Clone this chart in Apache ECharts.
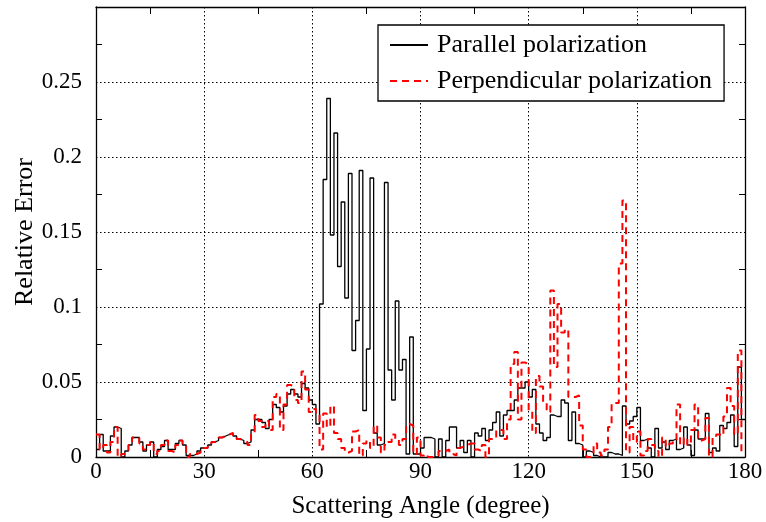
<!DOCTYPE html>
<html>
<head>
<meta charset="utf-8">
<script src="https://cdn.jsdelivr.net/npm/echarts@6/dist/echarts.min.js"></script>
<style>
  html, body { margin: 0; padding: 0; background: #fff; }
  #main { width: 766px; height: 522px; }
</style>
</head>
<body>
<div id="main"></div>
<script>
// Relative error per 1-degree scattering-angle bin (bin i covers [i, i+1) degrees)
const binWidth = 1;

const parallelError = [
  0.005, 0.015, 0.004, 0.004, 0.014, 0.020, 0.019, 0.000, 0.004, 0.008,
  0.013, 0.013, 0.010, 0.004, 0.008, 0.010, 0.000, 0.005, 0.007, 0.011,
  0.005, 0.005, 0.009, 0.011, 0.008, 0.001, 0.001, 0.002, 0.004, 0.006,
  0.006, 0.008, 0.010, 0.011, 0.013, 0.014, 0.015, 0.016, 0.014, 0.012,
  0.011, 0.009, 0.010, 0.018, 0.025, 0.025, 0.023, 0.019, 0.025, 0.035,
  0.033, 0.030, 0.034, 0.042, 0.045, 0.042, 0.040, 0.049, 0.046, 0.038,
  0.035, 0.022, 0.102, 0.185, 0.239, 0.148, 0.216, 0.127, 0.170, 0.106,
  0.189, 0.071, 0.091, 0.191, 0.031, 0.072, 0.186, 0.016, 0.008, 0.009,
  0.183, 0.058, 0.038, 0.104, 0.058, 0.065, 0.002, 0.080, 0.002, 0.002,
  0.006, 0.013, 0.013, 0.012, 0.000, 0.012, 0.000, 0.011, 0.020, 0.020,
  0.006, 0.011, 0.003, 0.011, 0.000, 0.016, 0.014, 0.019, 0.011, 0.018,
  0.023, 0.030, 0.014, 0.028, 0.031, 0.031, 0.038, 0.046, 0.046, 0.050,
  0.040, 0.045, 0.022, 0.016, 0.011, 0.013, 0.028, 0.027, 0.027, 0.038,
  0.036, 0.011, 0.030, 0.009, 0.008, 0.000, 0.004, 0.003, 0.001, 0.000,
  0.000, 0.000, 0.003, 0.002, 0.002, 0.001, 0.034, 0.022, 0.024, 0.027,
  0.033, 0.011, 0.012, 0.006, 0.000, 0.019, 0.006, 0.010, 0.005, 0.011,
  0.012, 0.005, 0.006, 0.020, 0.008, 0.001, 0.018, 0.012, 0.012, 0.029,
  0.003, 0.006, 0.004, 0.021, 0.019, 0.023, 0.028, 0.007, 0.060, 0.025
];

const perpendicularError = [
  0.015, 0.005, 0.008, 0.003, 0.010, 0.020, 0.000, 0.002, 0.003, 0.008,
  0.013, 0.013, 0.009, 0.005, 0.008, 0.010, 0.002, 0.004, 0.008, 0.011,
  0.004, 0.003, 0.008, 0.011, 0.008, 0.000, 0.002, 0.002, 0.003, 0.006,
  0.006, 0.008, 0.010, 0.011, 0.013, 0.014, 0.015, 0.016, 0.014, 0.012,
  0.011, 0.010, 0.008, 0.015, 0.028, 0.024, 0.020, 0.024, 0.018, 0.040,
  0.042, 0.018, 0.035, 0.048, 0.047, 0.038, 0.036, 0.057, 0.045, 0.030,
  0.032, 0.028, 0.005, 0.029, 0.020, 0.034, 0.016, 0.012, 0.006, 0.003,
  0.004, 0.017, 0.018, 0.001, 0.009, 0.011, 0.006, 0.021, 0.013, 0.003,
  0.008, 0.010, 0.015, 0.012, 0.008, 0.012, 0.022, 0.021, 0.002, 0.013,
  0.001, 0.002, 0.000, 0.000, 0.001, 0.004, 0.004, 0.005, 0.002, 0.001,
  0.006, 0.007, 0.008, 0.009, 0.009, 0.005, 0.004, 0.008, 0.000, 0.012,
  0.012, 0.018, 0.018, 0.012, 0.025, 0.062, 0.070, 0.025, 0.063, 0.062,
  0.031, 0.016, 0.054, 0.047, 0.036, 0.030, 0.111, 0.060, 0.102, 0.083,
  0.085, 0.040, 0.040, 0.041, 0.021, 0.005, 0.000, 0.001, 0.009, 0.003,
  0.001, 0.005, 0.020, 0.036, 0.036, 0.129, 0.171, 0.003, 0.020, 0.010,
  0.017, 0.001, 0.004, 0.012, 0.008, 0.004, 0.000, 0.013, 0.007, 0.009,
  0.011, 0.035, 0.008, 0.013, 0.008, 0.018, 0.035, 0.011, 0.012, 0.026,
  0.000, 0.013, 0.015, 0.014, 0.027, 0.046, 0.034, 0.015, 0.071, 0.003
];

const xTicks = { min: 0, max: 180, step: 30 };
const yTicks = { min: 0, max: 0.3, step: 0.05 };
const seriesNames = ['Parallel polarization', 'Perpendicular polarization'];

// Turn per-bin values into step points: each bin value spans [start, start + width]
function toSteps(values) {
  const pts = values.map((v, i) => [i * binWidth, v]);
  pts.push([values.length * binWidth, values[values.length - 1]]);
  return pts;
}

const FONT = 'Liberation Serif, Times New Roman, serif';
const axisLineStyle = { color: '#000', width: 1.3 };
const gridDots = { color: '#000', width: 1, type: [1.5, 2.5] };

function xAxisDef(pos, main) {
  return {
    type: 'value', position: pos,
    min: xTicks.min, max: xTicks.max, interval: xTicks.step,
    axisLine: { show: true, onZero: false, lineStyle: axisLineStyle },
    axisTick: { show: false, inside: true },
    minorTick: { show: true, splitNumber: 2, length: 7, lineStyle: { color: '#000', width: 1 } },
    splitLine: { show: main, lineStyle: gridDots },
    axisLabel: main ? { show: true, fontFamily: FONT, fontSize: 23, color: '#000', margin: 3 } : { show: false },
    name: main ? 'Scattering Angle (degree)' : '',
    nameLocation: 'middle', nameGap: 37, nameMoveOverlap: false,
    nameTextStyle: { fontFamily: FONT, fontSize: 25, color: '#000' }
  };
}

function yAxisDef(pos, main) {
  return {
    type: 'value', position: pos,
    min: yTicks.min, max: yTicks.max, interval: yTicks.step,
    axisLine: { show: true, onZero: false, lineStyle: axisLineStyle },
    axisTick: { show: false, inside: true },
    minorTick: { show: true, splitNumber: 2, length: 6, lineStyle: { color: '#000', width: 1 } },
    splitLine: { show: main, lineStyle: gridDots },
    axisLabel: main ? { show: true, showMaxLabel: false, fontFamily: FONT, fontSize: 23, color: '#000', margin: 14 } : { show: false },
    name: main ? 'Relative Error' : '',
    nameLocation: 'middle', nameGap: 58, nameMoveOverlap: false,
    nameTextStyle: { fontFamily: FONT, fontSize: 26, color: '#000' }
  };
}

const chart = echarts.init(document.getElementById('main'), null, { renderer: 'canvas' });
chart.setOption({
  animation: false,
  backgroundColor: '#fff',
  grid: { left: 96, right: 21, top: 7, bottom: 65, containLabel: false, outerBoundsMode: 'none' },
  legend: {
    orient: 'vertical', left: 378, top: 25,
    backgroundColor: '#fff', borderColor: '#000', borderWidth: 1.3, borderRadius: 0,
    padding: [7, 12, 7, 11],
    itemWidth: 38, itemHeight: 14, itemGap: 10,
    itemStyle: { opacity: 0 },
    textStyle: { fontFamily: FONT, fontSize: 26, color: '#000', lineHeight: 26, padding: [0, 0, 0, 4] },
    data: seriesNames
  },
  xAxis: [xAxisDef('bottom', true), xAxisDef('top', false)],
  yAxis: [yAxisDef('left', true), yAxisDef('right', false)],
  series: [
    {
      name: seriesNames[0], type: 'line', step: 'end',
      xAxisIndex: 0, yAxisIndex: 0,
      symbol: 'none', data: toSteps(parallelError),
      lineStyle: { color: '#000', width: 1.3 },
      itemStyle: { color: '#000' }
    },
    {
      name: seriesNames[1], type: 'line', step: 'end',
      xAxisIndex: 0, yAxisIndex: 0,
      symbol: 'none', data: toSteps(perpendicularError),
      lineStyle: { color: '#ff0000', width: 2, type: [7, 5] },
      itemStyle: { color: '#ff0000' }
    }
  ]
});
</script>
</body>
</html>
